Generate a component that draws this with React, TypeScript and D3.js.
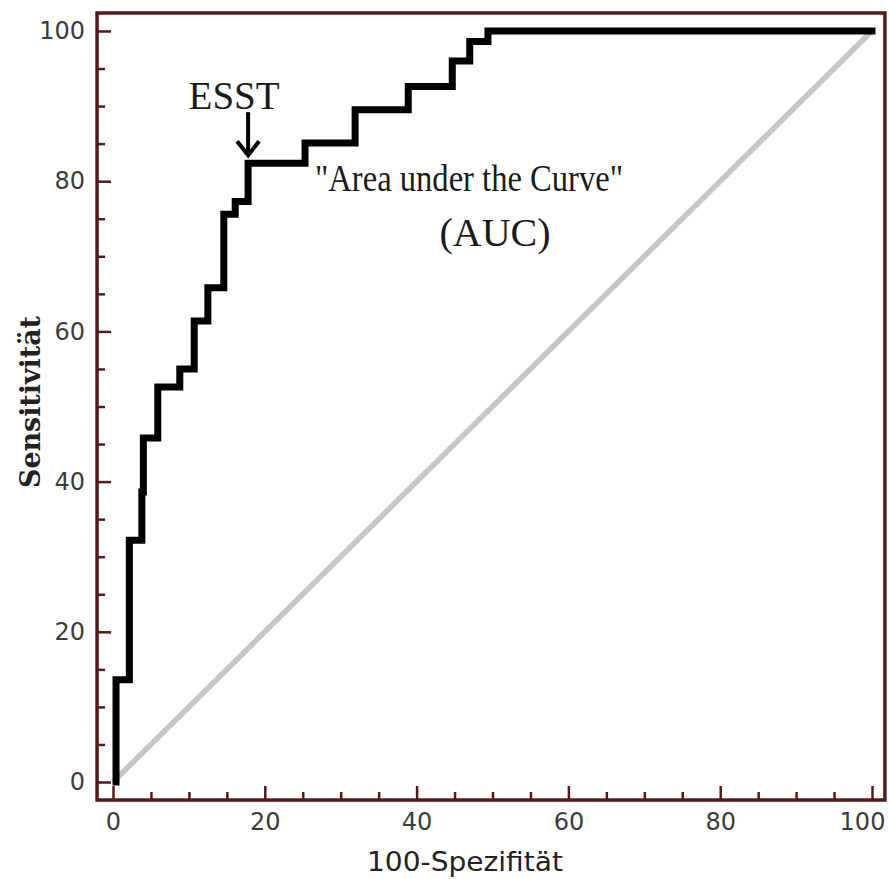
import { useEffect, useRef } from "react";
import * as d3 from "d3";

const W = 889;
const H = 879;

// ROC step corners: at each fpr the curve rises to the tpr
const rocFpr = [0.4, 0.4, 2.15, 3.8, 4.0, 5.9, 8.8, 10.7, 12.5, 14.6, 16.1, 17.8, 25.3, 31.9, 38.9, 44.7, 47.0, 49.4, 100];
const rocTpr = [0, 13.6, 32.2, 38.6, 45.8, 52.6, 55.0, 61.4, 65.8, 75.6, 77.3, 82.4, 85.1, 89.5, 92.6, 96.0, 98.6, 100, 100];

const diagFpr = [0, 100];
const diagTpr = [0, 100];

const majorTicks = [0, 20, 40, 60, 80, 100];
const minorTicks = [5, 10, 15, 25, 30, 35, 45, 50, 55, 65, 70, 75, 85, 90, 95];

const esstPoint = { fpr: 17.8, tpr: 82.4, label: "ESST" };
const aucLines = ['"Area under the Curve"', "(AUC)"];

const xLabel = "100-Spezifität";
const yLabel = "Sensitivität";

const FRAME = "#541a1a";
const TICK_TEXT = "#3c3c3c";

export default function App() {
    const svgRef = useRef<SVGSVGElement | null>(null);

    useEffect(() => {
        if (!svgRef.current) return;
        const svg = d3.select(svgRef.current);
        svg.selectAll("*").remove();

        const x = d3.scaleLinear().domain([0, 100]).range([113, 872]);
        const y = d3.scaleLinear().domain([0, 100]).range([782, 31]);

        const left = x(-2.1);
        const right = x(101.7);
        const top = y(102.4);
        const bottom = y(-2.4);

        svg.append("rect").attr("width", W).attr("height", H).attr("fill", "#fff");

        // diagonal reference
        const diag = diagFpr.map((v, i) => [v, diagTpr[i]] as [number, number]);
        svg.append("path")
            .datum(diag)
            .attr("fill", "none")
            .attr("stroke", "#c6c6c6")
            .attr("stroke-width", 5.5)
            .attr("d", d3.line().x((d) => x(d[0])).y((d) => y(d[1])));

        // ROC curve
        const roc = rocFpr.map((v, i) => [v, rocTpr[i]] as [number, number]);
        svg.append("path")
            .datum(roc)
            .attr("fill", "none")
            .attr("stroke", "#000")
            .attr("stroke-width", 7)
            .attr("stroke-linejoin", "miter")
            .attr("stroke-linecap", "square")
            .attr("d", d3.line().x((d) => x(d[0])).y((d) => y(d[1])).curve(d3.curveStepAfter));

        // axes, ticks pointing inward
        const styleAxis = (g: any) => {
            g.attr("color", FRAME);
            g.select(".domain").remove();
            g.selectAll(".tick line").attr("stroke-width", 2.5);
            g.selectAll("text")
                .attr("fill", TICK_TEXT)
                .style("font-family", "'DejaVu Sans', sans-serif")
                .style("font-size", "24px");
        };

        svg.append("g")
            .attr("transform", `translate(${left},0)`)
            .call(d3.axisLeft(y).tickValues(minorTicks).tickSizeInner(-8).tickSizeOuter(0).tickFormat(() => ""))
            .call(styleAxis);
        svg.append("g")
            .attr("transform", `translate(${left},0)`)
            .call(d3.axisLeft(y).tickValues(majorTicks).tickSizeInner(-14).tickSizeOuter(0).tickPadding(12))
            .call(styleAxis);

        svg.append("g")
            .attr("transform", `translate(0,${bottom})`)
            .call(d3.axisBottom(x).tickValues(minorTicks).tickSizeInner(-8).tickSizeOuter(0).tickFormat(() => ""))
            .call(styleAxis);
        const xMajor = svg.append("g")
            .attr("transform", `translate(0,${bottom})`)
            .call(d3.axisBottom(x).tickValues(majorTicks).tickSizeInner(-14).tickSizeOuter(0).tickPadding(13))
            .call(styleAxis);
        // last label sits flush with the right edge as in the source
        xMajor.selectAll(".tick text").filter((d: any) => d === 100).attr("dx", -10);

        // frame
        svg.append("rect")
            .attr("x", left)
            .attr("y", top)
            .attr("width", right - left)
            .attr("height", bottom - top)
            .attr("fill", "none")
            .attr("stroke", FRAME)
            .attr("stroke-width", 3.5);

        // axis titles
        svg.append("text")
            .attr("x", 465)
            .attr("y", 871)
            .attr("text-anchor", "middle")
            .attr("fill", "#222")
            .style("font-family", "'DejaVu Sans', sans-serif")
            .style("font-size", "26px")
            .attr("textLength", 196)
            .attr("lengthAdjust", "spacingAndGlyphs")
            .text(xLabel);

        svg.append("text")
            .attr("transform", `translate(40,402) rotate(-90)`)
            .attr("text-anchor", "middle")
            .attr("fill", "#222")
            .style("font-family", "'DejaVu Serif', serif")
            .style("font-size", "27px")
            .style("font-weight", "bold")
            .attr("textLength", 172)
            .attr("lengthAdjust", "spacingAndGlyphs")
            .text(yLabel);

        // ESST marker
        const ax = x(esstPoint.fpr);
        const tipY = y(esstPoint.tpr) - 8;
        svg.append("text")
            .attr("x", ax - 14)
            .attr("y", tipY - 46)
            .attr("text-anchor", "middle")
            .attr("fill", "#1a1a1a")
            .style("font-family", "'Liberation Serif', 'Times New Roman', serif")
            .style("font-size", "39px")
            .text(esstPoint.label);
        svg.append("line")
            .attr("x1", ax)
            .attr("x2", ax)
            .attr("y1", tipY - 43)
            .attr("y2", tipY - 2)
            .attr("stroke", "#000")
            .attr("stroke-width", 4);
        svg.append("path")
            .attr("d", `M${ax - 11},${tipY - 14} L${ax},${tipY} L${ax + 11},${tipY - 14}`)
            .attr("fill", "none")
            .attr("stroke", "#000")
            .attr("stroke-width", 4);

        // AUC annotation
        svg.append("text")
            .attr("x", 469)
            .attr("y", 191)
            .attr("text-anchor", "middle")
            .attr("fill", "#1a1a1a")
            .style("font-family", "'Liberation Serif', 'Times New Roman', serif")
            .style("font-size", "38px")
            .attr("textLength", 308)
            .attr("lengthAdjust", "spacingAndGlyphs")
            .text(aucLines[0]);
        svg.append("text")
            .attr("x", 495)
            .attr("y", 246)
            .attr("text-anchor", "middle")
            .attr("fill", "#1a1a1a")
            .style("font-family", "'Liberation Serif', 'Times New Roman', serif")
            .style("font-size", "40px")
            .text(aucLines[1]);
    }, []);

    return (
        <svg
            ref={svgRef}
            width={W}
            height={H}
            style={{ position: "absolute", left: 0, top: 0, display: "block" }}
        />
    );
}
